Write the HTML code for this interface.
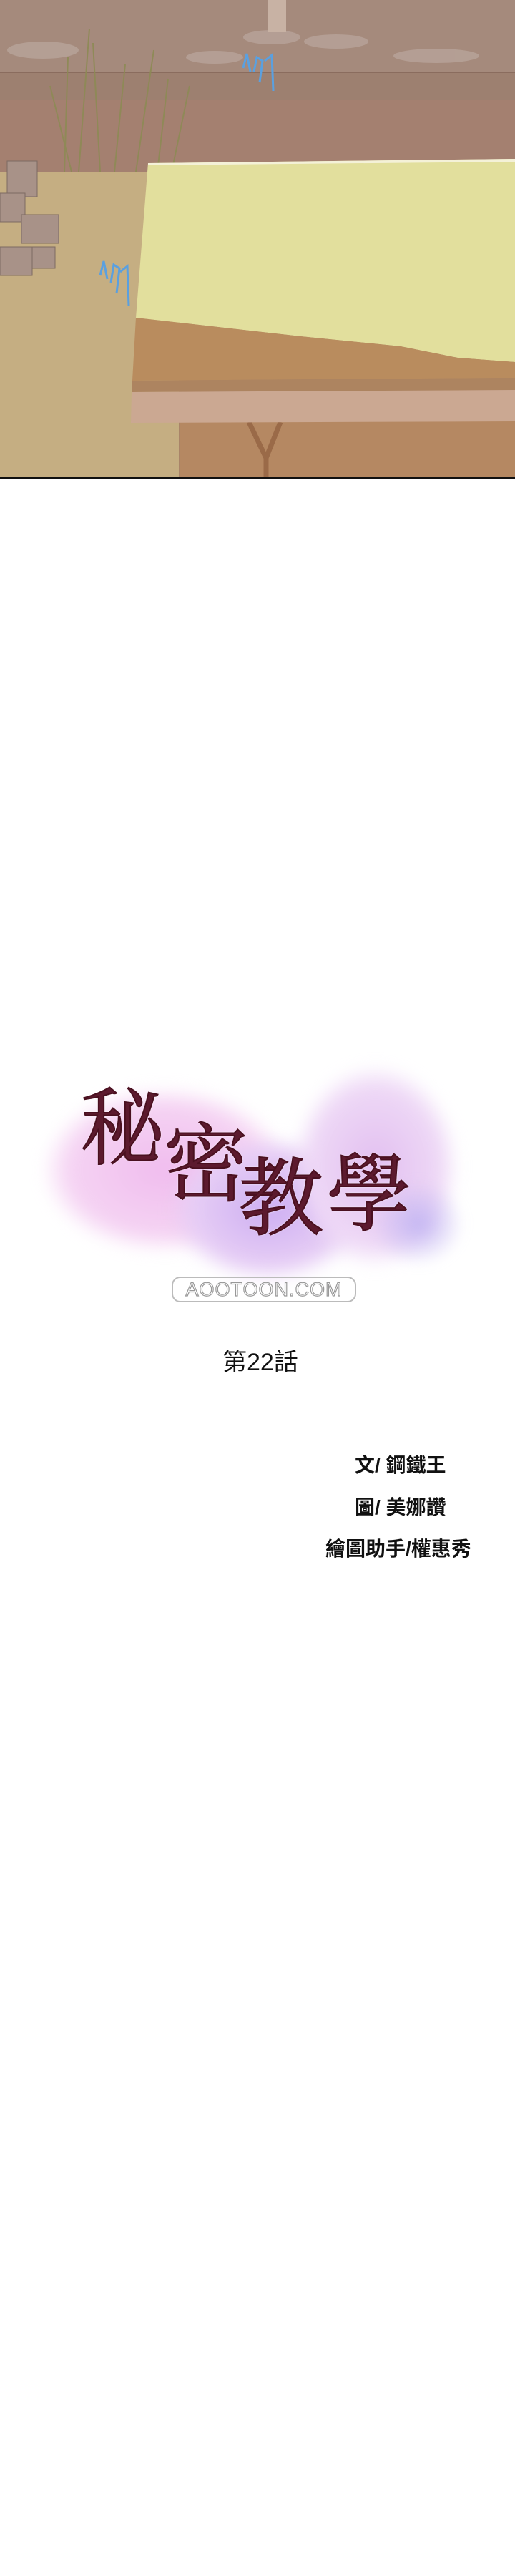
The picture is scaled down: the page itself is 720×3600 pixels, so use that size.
<!DOCTYPE html>
<html><head><meta charset="utf-8"><style>
html,body{margin:0;padding:0;background:#fff;}
body{width:720px;height:3600px;position:relative;overflow:hidden;}
.abs{position:absolute;}
.tch{position:absolute;font-family:"Liberation Serif","Noto Serif CJK SC",serif;color:#5c1a2e;font-size:118px;line-height:1;-webkit-text-stroke:2px #4a1020;text-shadow:0 0 3px #fff,0 0 2px #fff;}
.cred{position:absolute;font-family:"Liberation Sans","Noto Sans CJK TC",sans-serif;font-weight:bold;color:#111;font-size:28px;line-height:1;white-space:nowrap;}
</style></head><body>
<svg class="abs" style="left:0;top:0" width="720" height="670" viewBox="0 0 720 670">
  <rect x="0" y="0" width="720" height="670" fill="#9d8070"/>
  <rect x="0" y="0" width="720" height="100" fill="#a58a7c"/>
  <g fill="#b8a49a" opacity="0.8">
    <ellipse cx="60" cy="70" rx="50" ry="12"/><ellipse cx="380" cy="52" rx="40" ry="10"/>
    <ellipse cx="470" cy="58" rx="45" ry="10"/><ellipse cx="610" cy="78" rx="60" ry="10"/>
    <ellipse cx="300" cy="80" rx="40" ry="9"/>
  </g>
  <rect x="0" y="100" width="720" height="2" fill="#8a6c5e"/>
  <rect x="0" y="140" width="720" height="100" fill="#a88070" opacity="0.6"/>
  <rect x="375" y="0" width="25" height="45" fill="#c8b2a4"/>
  <g stroke="#8d8a55" stroke-width="2" fill="none" opacity="0.9">
    <path d="M90 240 L95 80"/><path d="M110 240 L125 40"/><path d="M140 240 L130 60"/>
    <path d="M160 240 L175 90"/><path d="M190 240 L215 70"/><path d="M220 240 L235 110"/>
    <path d="M240 240 L265 120"/><path d="M100 240 L70 120"/>
  </g>
  <path d="M0 240 L250 240 L250 670 L0 670 Z" fill="#c5ae82"/>
  <path d="M250 240 L720 240 L720 670 L250 670 Z" fill="#a98468"/>
  <g fill="#a89288" stroke="#7d6a62" stroke-width="1">
    <rect x="10" y="225" width="42" height="50"/><rect x="0" y="270" width="35" height="40"/>
    <rect x="30" y="300" width="52" height="40"/><rect x="0" y="345" width="45" height="40"/>
    <rect x="45" y="345" width="32" height="30"/>
  </g>
  <rect x="252" y="589" width="468" height="79" fill="#b58862"/>
  <g stroke="#9a6a48" stroke-width="7" fill="none">
    <path d="M348 590 L372 640 L392 590"/><path d="M372 640 L372 668"/>
  </g>
  <path d="M207 228 L720 222 L720 506 L640 500 L560 484 L420 470 L190 444 Z" fill="#e2df9d"/>
  <path d="M207 228 L720 222 L720 226 L207 231 Z" fill="#f4f1d8"/>
  <path d="M190 444 L420 470 L560 484 L640 500 L720 506 L720 528 L185 532 Z" fill="#b98c5e"/>
  <path d="M185 532 L720 528 L720 545 L184 548 Z" fill="#ad8460"/>
  <path d="M184 548 L720 545 L720 589 L183 591 Z" fill="#cba892"/>
  <g stroke="#5aa0e0" stroke-width="3" fill="none">
    <path d="M340 95 l5 -20 l5 25 M355 100 l4 -20 l8 5 l-4 30 M370 85 l10 -8 l2 50"/>
    <path d="M140 385 l5 -20 l5 25 M155 395 l4 -25 l8 5 l-4 35 M168 380 l10 -8 l2 55"/>
  </g>
  <rect x="0" y="667" width="720" height="3" fill="#111"/>
</svg>

<div class="abs" style="left:60px;top:1480px;width:600px;height:320px;">
  <div class="abs" style="left:0px;top:40px;width:340px;height:230px;border-radius:50%;background:radial-gradient(#f0bcee,#f5d3f3 55%,rgba(255,255,255,0) 72%);filter:blur(10px);"></div>
  <div class="abs" style="left:180px;top:110px;width:270px;height:200px;border-radius:50%;background:radial-gradient(#cdaef2,#e6cdf5 55%,rgba(255,255,255,0) 72%);filter:blur(10px);"></div>
  <div class="abs" style="left:350px;top:10px;width:230px;height:280px;border-radius:50%;background:radial-gradient(#e2bff0,#eed8f6 55%,rgba(255,255,255,0) 72%);filter:blur(10px);"></div>
  <div class="abs" style="left:460px;top:170px;width:130px;height:120px;border-radius:50%;background:radial-gradient(#c4b6f2,rgba(255,255,255,0) 70%);filter:blur(8px);"></div>
</div>
<div class="tch" style="left:112px;top:1520px;">秘</div>
<div class="tch" style="left:229px;top:1570px;">密</div>
<div class="tch" style="left:334px;top:1618px;">教</div>
<div class="tch" style="left:457px;top:1612px;">學</div>

<div class="abs" style="left:240px;top:1784px;width:258px;height:36px;border:2px solid #bbb;border-radius:12px;box-sizing:border-box;font-family:'Liberation Sans',sans-serif;font-size:27px;line-height:32px;text-align:center;color:#fff;-webkit-text-stroke:1.2px #999;letter-spacing:1px;">AOOTOON.COM</div>

<div class="abs" style="left:311px;top:1884px;font-family:'Liberation Sans','Noto Sans CJK TC',sans-serif;font-size:34px;line-height:40px;color:#111;white-space:nowrap;">第22話</div>

<div class="cred" style="left:496px;top:2034px;">文/ 鋼鐵王</div>
<div class="cred" style="left:496px;top:2093px;">圖/ 美娜讚</div>
<div class="cred" style="left:455px;top:2151px;">繪圖助手/權惠秀</div>
</body></html>
